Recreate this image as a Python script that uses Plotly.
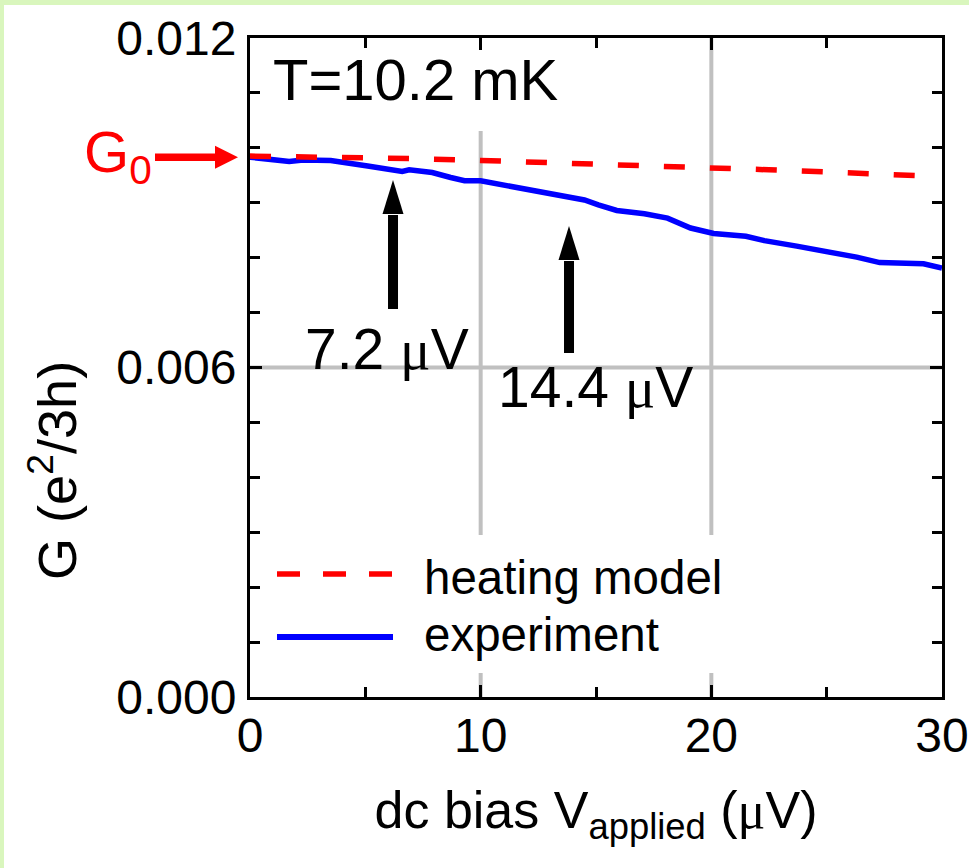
import plotly.graph_objects as go

# ---------------- data ----------------
exp_v = [0, 1.7, 2.3, 3.5, 5.1, 6.1, 6.6, 6.9, 7.9, 8.7, 9.3, 10.0, 11.1, 12.7, 14.1, 14.5,
         15.1, 15.9, 17.1, 18.1, 19.1, 20.1, 21.5, 22.3, 23.7, 25.1, 26.3, 27.3, 28.0, 28.6,
         29.2, 30.0]
exp_g = [0.00983, 0.00975, 0.00978, 0.00977, 0.00967, 0.00961, 0.00957, 0.00960, 0.00955,
         0.00946, 0.00940, 0.00940, 0.00932, 0.00920, 0.00910, 0.00905, 0.00896, 0.00886,
         0.00880, 0.00872, 0.00854, 0.00844, 0.00839, 0.00831, 0.00821, 0.00811, 0.00801,
         0.00791, 0.00790, 0.00791, 0.00789, 0.00781]

heat_v = [0, 2.5, 5, 7.5, 10, 12.5, 15, 17.5, 20, 22.5, 25, 27.5, 29.2]
heat_g = [0.00985, 0.00984, 0.00982, 0.00980, 0.00977, 0.00974, 0.00971, 0.00968, 0.00963,
          0.00960, 0.00956, 0.00953, 0.00949]

x_tickvals = [0, 10, 20, 30]
y_tickvals = [0.0, 0.006, 0.012]
series_names = ["heating model", "experiment"]
arrow_v = [6.2, 13.83]            # positions of the black marker arrows
arrow_labels = ["7.2 \u03bcV", "14.4 \u03bcV"]
G0 = 0.00983

# ---------------- geometry helpers ----------------
W, H = 969, 868
ML, MR, MT, MB = 250, 27, 38, 171
PW, PH = W - ML - MR, H - MT - MB
XMAX, YMAX = 30, 0.012


def vx(px):  # pixel -> data x
    return (px - ML) / PW * XMAX


def gy(py):  # pixel -> data y
    return (MT + PH - py) / PH * YMAX


def paperx(px):
    return (px - ML) / PW


def papery(py):
    return (MT + PH - py) / PH


FONT = "Liberation Sans, Arial, sans-serif"
SERIF = "Liberation Serif, Times New Roman, serif"
RED, BLUE, GREY, GREEN = "#ff0000", "#0000ff", "#c0c0c0", "#d9f6bd"

fig = go.Figure()
fig.add_trace(go.Scatter(x=exp_v, y=exp_g, mode="lines", name=series_names[1],
                         line=dict(color=BLUE, width=5.5), showlegend=False))
fig.add_trace(go.Scatter(x=heat_v, y=heat_g, mode="lines", name=series_names[0],
                         line=dict(color=RED, width=5.5, dash="21px,25px"), showlegend=False))

shapes = []
# green border strips on the left and top edges of the page
shapes.append(dict(type="rect", xref="paper", yref="paper", layer="below",
                   x0=paperx(-2), x1=paperx(4), y0=papery(-2), y1=papery(H + 2),
                   fillcolor=GREEN, line=dict(width=0)))
shapes.append(dict(type="rect", xref="paper", yref="paper", layer="below",
                   x0=paperx(-2), x1=paperx(W + 2), y0=papery(-2), y1=papery(5),
                   fillcolor=GREEN, line=dict(width=0)))
# grid segments (partly hidden behind text boxes in the original)
for xv, ytop in [(10, gy(131)), (20, YMAX)]:
    shapes.append(dict(type="line", xref="x", yref="y", layer="below", x0=xv, x1=xv,
                       y0=gy(535), y1=ytop, line=dict(color=GREY, width=4)))
    shapes.append(dict(type="line", xref="x", yref="y", layer="below", x0=xv, x1=xv,
                       y0=0, y1=gy(673), line=dict(color=GREY, width=4)))
shapes.append(dict(type="line", xref="x", yref="y", layer="below", x0=0, x1=XMAX,
                   y0=0.006, y1=0.006, line=dict(color=GREY, width=4)))

# black arrows (shaft + head)
arrow_px = [(180, 215, 309), (226, 261, 353)]  # tip, head-base, tail (pixel rows)
for av, (tip, base, tail) in zip(arrow_v, arrow_px):
    shapes.append(dict(type="line", xref="x", yref="y", x0=av, x1=av, y0=gy(tail), y1=gy(base),
                       line=dict(color="black", width=10)))
    shapes.append(dict(type="path", xref="x", yref="y", xsizemode="pixel", ysizemode="pixel",
                       xanchor=av, yanchor=gy(base), path="M-10.5,1 L10.5,1 L0,%d Z" % (base - tip),
                       fillcolor="black", line=dict(width=0)))

# red G0 arrow (shaft + head), pointing at the axis
shapes.append(dict(type="line", xref="paper", yref="y", x0=paperx(155), x1=paperx(217),
                   y0=G0, y1=G0, line=dict(color=RED, width=7.5)))
shapes.append(dict(type="path", xref="paper", yref="y", xsizemode="pixel", ysizemode="pixel",
                   xanchor=paperx(238), yanchor=G0, path="M0,0 L-23,11.5 L-23,-11.5 Z",
                   fillcolor=RED, line=dict(width=0)))

# manual legend samples
shapes.append(dict(type="line", xref="paper", yref="paper", x0=paperx(277), x1=paperx(393),
                   y0=papery(574), y1=papery(574), line=dict(color=RED, width=5.5, dash="23px,23px")))
shapes.append(dict(type="line", xref="paper", yref="paper", x0=paperx(277), x1=paperx(393),
                   y0=papery(637), y1=papery(637), line=dict(color=BLUE, width=6)))

ann = []
ann.append(dict(text=series_names[0], xref="paper", yref="paper", x=paperx(422), y=papery(577),
                xanchor="left", yanchor="middle", showarrow=False, font=dict(size=47.5, color="black")))
ann.append(dict(text=series_names[1], xref="paper", yref="paper", x=paperx(422), y=papery(634),
                xanchor="left", yanchor="middle", showarrow=False, font=dict(size=47.5, color="black")))
ann.append(dict(text="T=10.2 mK", xref="x", yref="y", x=vx(271), y=gy(79), xanchor="left",
                yanchor="middle", showarrow=False, font=dict(size=58, color="black")))
mu = "<span style=\"font-family:%s\">\u03bc</span>" % SERIF
ann.append(dict(text=arrow_labels[0].replace("\u03bc", mu), xref="x", yref="y", x=vx(303), y=gy(349),
                xanchor="left", yanchor="middle", showarrow=False, font=dict(size=57, color="black")))
ann.append(dict(text=arrow_labels[1].replace("\u03bc", mu), xref="x", yref="y", x=vx(496), y=gy(387),
                xanchor="left", yanchor="middle", showarrow=False, font=dict(size=57, color="black")))
# G0 label
ann.append(dict(text="G<sub>0</sub>", xref="paper", yref="y", x=paperx(82), y=G0 + 0.00002,
                xanchor="left", yanchor="middle", showarrow=False, font=dict(size=58, color=RED)))
# y-axis title (sits below the axis centre in the original)
ann.append(dict(text="G (e<sup>2</sup>/3h)", xref="paper", yref="paper", x=paperx(53), y=papery(471),
                xanchor="center", yanchor="middle", textangle=-90, showarrow=False,
                font=dict(size=54, color="black")))

fig.update_layout(
    width=W, height=H,
    margin=dict(l=ML, r=MR, t=MT, b=MB, pad=0, autoexpand=False),
    paper_bgcolor="white", plot_bgcolor="white",
    font=dict(family=FONT, color="black", size=46),
    shapes=shapes, annotations=ann, showlegend=False,
)
fig.update_xaxes(
    range=[0, XMAX], tickvals=x_tickvals, ticks="inside", ticklen=12, tickwidth=3,
    tickcolor="black", showline=True, linecolor="black", linewidth=3, mirror="ticks",
    showgrid=False, zeroline=False, tickfont=dict(size=48), ticklabelstandoff=-6,
    automargin=False,
    minor=dict(dtick=5, ticks="inside", ticklen=10, tickwidth=3, tickcolor="black", showgrid=False),
    title=dict(text="dc bias V<sub>applied</sub> (%sV)" % mu, font=dict(size=52), standoff=32),
)
fig.update_yaxes(
    range=[0, YMAX], tickvals=y_tickvals, tickformat=".3f", ticks="inside", ticklen=12,
    tickwidth=3, tickcolor="black", showline=True, linecolor="black", linewidth=3,
    mirror="ticks", showgrid=False, zeroline=False, tickfont=dict(size=48), ticklabelstandoff=1,
    automargin=False,
    minor=dict(dtick=0.001, ticks="inside", ticklen=10, tickwidth=3, tickcolor="black", showgrid=False),
)

fig.write_html("out.html")
